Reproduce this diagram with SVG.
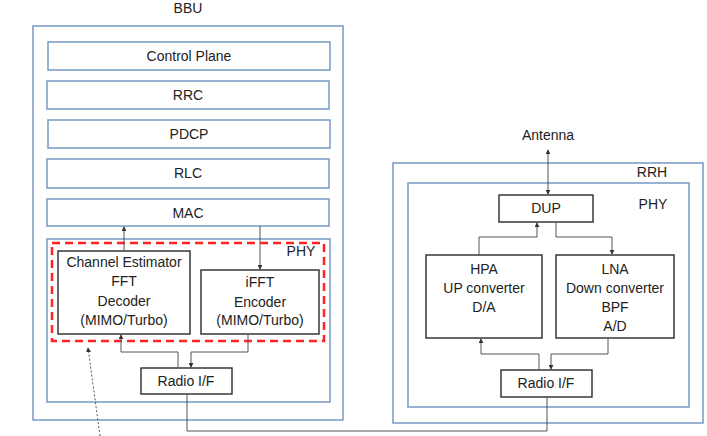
<svg xmlns="http://www.w3.org/2000/svg" width="707" height="436" viewBox="0 0 707 436">
<style>
.bl{fill:none;stroke:#7f9fc9;stroke-width:1.6}
.bk{fill:#fff;stroke:#2a2a2a;stroke-width:1.4}
.t{font-family:"Liberation Sans",Arial,sans-serif;font-size:14px;fill:#222;text-anchor:middle}
.c{fill:none;stroke:#555;stroke-width:1}
</style>
<defs>
<marker id="a" viewBox="0 0 6 6" refX="5" refY="3" markerWidth="5" markerHeight="5" orient="auto-start-reverse"><path d="M0,0L6,3L0,6z" fill="#333"/></marker>
</defs>
<rect width="707" height="436" fill="#fff"/>
<g id="bbu">
<rect class="bl" x="33" y="26" width="310" height="394"/>
<text class="t" x="188" y="13">BBU</text>
</g>
<g id="control-plane"><rect class="bl" x="48" y="42" width="282" height="28"/><text class="t" x="189" y="61">Control Plane</text></g>
<g id="rrc"><rect class="bl" x="47" y="81" width="282" height="28"/><text class="t" x="188" y="100">RRC</text></g>
<g id="pdcp"><rect class="bl" x="48" y="120" width="282" height="28"/><text class="t" x="189" y="139">PDCP</text></g>
<g id="rlc"><rect class="bl" x="47" y="159" width="282" height="29"/><text class="t" x="188" y="178">RLC</text></g>
<g id="mac"><rect class="bl" x="47" y="199" width="282" height="27"/><text class="t" x="188" y="218">MAC</text></g>
<g id="bbu-phy">
<rect class="bl" x="47" y="239" width="283" height="163"/>
<text class="t" x="301" y="256">PHY</text>
<rect x="52" y="243" width="272" height="98" fill="none" stroke="#f22" stroke-width="2.5" stroke-dasharray="8,5"/>
</g>
<g id="channel-estimator">
<rect class="bk" x="58" y="251" width="132" height="83"/>
<text class="t" x="124" y="267">Channel Estimator</text>
<text class="t" x="124" y="286">FFT</text>
<text class="t" x="124" y="306">Decoder</text>
<text class="t" x="124" y="325">(MIMO/Turbo)</text>
</g>
<g id="ifft">
<rect class="bk" x="201" y="270" width="118" height="64"/>
<text class="t" x="260" y="287">iFFT</text>
<text class="t" x="260" y="307">Encoder</text>
<text class="t" x="260" y="325">(MIMO/Turbo)</text>
</g>
<g id="bbu-radio">
<rect class="bk" x="141" y="368" width="91" height="26"/>
<text class="t" x="186" y="386">Radio I/F</text>
</g>
<g id="rrh">
<rect class="bl" x="393" y="163" width="310" height="260"/>
<text class="t" x="652" y="177">RRH</text>
</g>
<g id="rrh-phy">
<rect class="bl" x="408" y="183" width="281" height="224"/>
<text class="t" x="653" y="209">PHY</text>
</g>
<g id="antenna"><text class="t" x="548" y="140">Antenna</text></g>
<g id="dup"><rect class="bk" x="499" y="195" width="94" height="27"/><text class="t" x="546" y="213">DUP</text></g>
<g id="hpa">
<rect class="bk" x="426" y="255" width="116" height="83"/>
<text class="t" x="484" y="274">HPA</text>
<text class="t" x="484" y="293">UP converter</text>
<text class="t" x="484" y="312">D/A</text>
</g>
<g id="lna">
<rect class="bk" x="556" y="255" width="118" height="83"/>
<text class="t" x="615" y="274">LNA</text>
<text class="t" x="615" y="293">Down converter</text>
<text class="t" x="615" y="312">BPF</text>
<text class="t" x="615" y="331">A/D</text>
</g>
<g id="rrh-radio">
<rect class="bk" x="501" y="370" width="91" height="27"/>
<text class="t" x="546" y="388">Radio I/F</text>
</g>
<g id="connectors">
<path class="c" d="M124,251V227" marker-end="url(#a)"/>
<path class="c" d="M260,226V269" marker-end="url(#a)"/>
<path class="c" d="M178,368V352H121V335" marker-end="url(#a)"/>
<path class="c" d="M248,334V352H191V367" marker-end="url(#a)"/>
<path class="c" d="M187,394V431H547V397"/>
<path d="M100,436L88,348" fill="none" stroke="#555" stroke-width="1" stroke-dasharray="2,2" marker-end="url(#a)"/>
<path class="c" d="M548,150V194" marker-start="url(#a)" marker-end="url(#a)"/>
<path class="c" d="M479,255V237H537V223" marker-end="url(#a)"/>
<path class="c" d="M556,222V237H612V254" marker-end="url(#a)"/>
<path class="c" d="M539,370V354H481V339" marker-end="url(#a)"/>
<path class="c" d="M608,338V354H551V369" marker-end="url(#a)"/>
</g>
</svg>
